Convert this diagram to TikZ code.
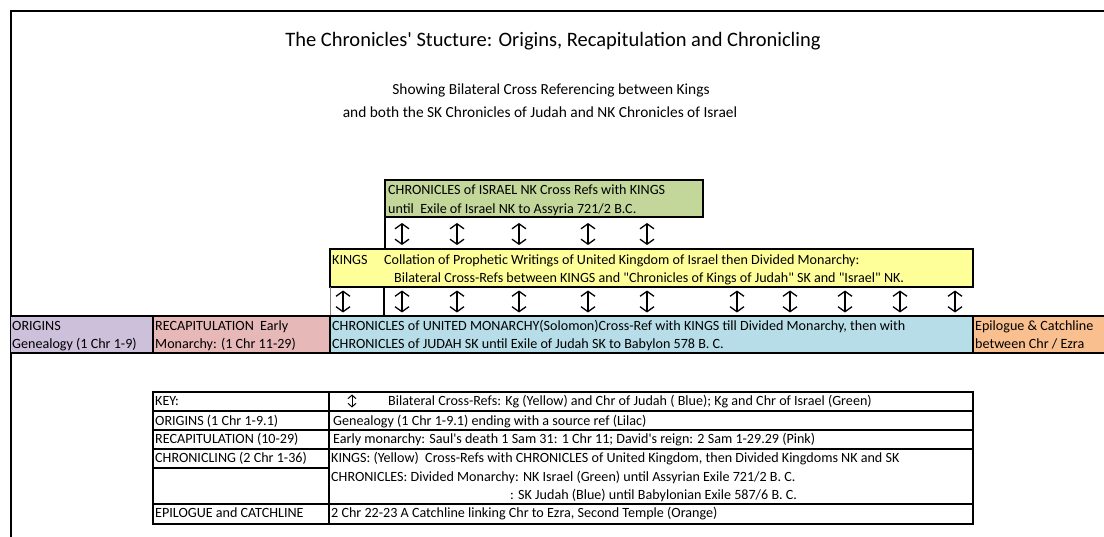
\documentclass[tikz,border=0pt]{standalone}
\usepackage{fontspec}
\setmainfont{Carlito}
\usetikzlibrary{arrows.meta}
\definecolor{lilacc}{HTML}{CCC0DA}
\definecolor{pinkc}{HTML}{E6B8B7}
\definecolor{bluec}{HTML}{B7DEE8}
\definecolor{orangec}{HTML}{FABF8F}
\definecolor{yellowc}{HTML}{FFFF99}
\definecolor{greenc}{HTML}{C4D79B}
\newcommand{\sq}{\textquotesingle}
\newcommand{\dq}{\textquotedbl}
\tikzset{
  frame/.style={line width=2pt},
  boxline/.style={line width=2pt},
  txt/.style={anchor=base west, inner sep=0pt, font=\fontsize{14.1}{17}\selectfont},
  titletxt/.style={anchor=base, inner sep=0pt, font=\fontsize{20.5}{24}\selectfont},
  subtxt/.style={anchor=base, inner sep=0pt, font=\fontsize{15.4}{18}\selectfont},
  updown/.pic={\draw[line width=1.3pt, {Straight Barb[length=5pt,width=14pt]}-{Straight Barb[length=5pt,width=14pt]}] (0,-11) -- (0,11);},
  smallupdown/.pic={\draw[line width=1pt, {Straight Barb[length=3.5pt,width=8pt]}-{Straight Barb[length=3.5pt,width=8pt]}] (0,-6.5) -- (0,6.5);}
}
\begin{document}
\begin{tikzpicture}[x=1pt,y=-1pt]
\useasboundingbox (0,0) rectangle (1104,537);
% frame
\draw[frame] (11,537) -- (11,11) -- (1104,11);
% titles
\node[titletxt] (title) at (553,47) {The Chronicles\sq{} Stucture: Origins, Recapitulation and Chronicling};
\node[subtxt] (sub1) at (551,95) {Showing Bilateral Cross Referencing between Kings};
\node[subtxt] (sub2) at (540,118) {and both the SK Chronicles of Judah and NK Chronicles of Israel};
% green box
\filldraw[boxline, fill=greenc] (385,180) rectangle (703,217);
\node[txt] (g1) at (388,195) {CHRONICLES of ISRAEL NK Cross Refs with KINGS};
\node[txt] (g2) at (388,214) {until\ \ Exile of Israel NK to Assyria 721/2 B.C.};
\draw[boxline] (385,217) -- (385,249);
\foreach \x in {402,457,519,588,647} \pic at (\x,234) {updown};
% yellow box
\filldraw[boxline, fill=yellowc] (330,249) rectangle (973,287);
\node[txt] (k0) at (332,265) {KINGS};
\node[txt] (k1) at (384,265) {Collation of Prophetic Writings of United Kingdom of Israel then Divided Monarchy:};
\node[txt] (k2) at (394,283) {Bilateral Cross-Refs between KINGS and \dq{}Chronicles of Kings of Judah\dq{} SK and \dq{}Israel\dq{} NK.};
\draw[gray, line width=1pt] (330,287) -- (330,316);
\draw[boxline] (384,287) -- (384,316);
\foreach \x in {343,402,457,519,588,647,737,790,845,900,955} \pic at (\x,301.5) {updown};
% main row
\fill[lilacc] (11,316) rectangle (153,353);
\fill[pinkc] (153,316) rectangle (330,353);
\fill[bluec] (330,316) rectangle (973,353);
\fill[orangec] (973,316) rectangle (1104,353);
\draw[boxline] (11,316) -- (1104,316);
\draw[boxline] (11,353) -- (1104,353);
\draw[boxline] (153,316) -- (153,353);
\draw[boxline] (330,316) -- (330,353);
\draw[boxline] (973,316) -- (973,353);
\node[txt] (o1) at (12,331) {ORIGINS};
\node[txt] (o2) at (12,349) {Genealogy (1 Chr 1-9)};
\node[txt] (r1) at (155,331) {RECAPITULATION\ \ Early};
\node[txt] (r2) at (155,349) {Monarchy: (1 Chr 11-29)};
\node[txt] (c1) at (332,331) {CHRONICLES of UNITED MONARCHY(Solomon)Cross-Ref with KINGS till Divided Monarchy, then with};
\node[txt] (c2) at (332,349) {CHRONICLES of JUDAH SK until Exile of Judah SK to Babylon 578 B. C.};
\node[txt] (e1) at (975,331) {Epilogue \& Catchline};
\node[txt] (e2) at (975,349) {between Chr / Ezra};
% key table
\draw[boxline] (153,392) rectangle (973,524);
\draw[boxline] (153,411) -- (973,411);
\draw[boxline] (153,430) -- (973,430);
\draw[boxline] (153,449) -- (973,449);
\draw[boxline] (153,468) -- (329,468);
\draw[boxline] (153,504) -- (973,504);
\draw[boxline] (329,392) -- (329,524);
\node[txt] (kk1) at (155,406) {KEY:};
\pic at (352,401) {smallupdown};
\node[txt] (kv1) at (388,406) {Bilateral Cross-Refs: Kg (Yellow) and Chr of Judah ( Blue); Kg and Chr of Israel (Green)};
\node[txt] (kk2) at (155,425) {ORIGINS (1 Chr 1-9.1)};
\node[txt] (kv2) at (333,425) {Genealogy (1 Chr 1-9.1) ending with a source ref (Lilac)};
\node[txt] (kk3) at (155,443) {RECAPITULATION (10-29)};
\node[txt] (kv3) at (333,443) {Early monarchy: Saul\sq{}s death 1 Sam 31: 1 Chr 11; David\sq{}s reign: 2 Sam 1-29.29 (Pink)};
\node[txt] (kk4) at (155,462) {CHRONICLING (2 Chr 1-36)};
\node[txt] (kv4) at (331,462) {KINGS: (Yellow)\ \ Cross-Refs with CHRONICLES of United Kingdom, then Divided Kingdoms NK and SK};
\node[txt] (kv5) at (331,481) {CHRONICLES: Divided Monarchy: NK Israel (Green) until Assyrian Exile 721/2 B. C.};
\node[txt] (kv6) at (510,499) {: SK Judah (Blue) until Babylonian Exile 587/6 B. C.};
\node[txt] (kk7) at (155,517) {EPILOGUE and CATCHLINE};
\node[txt] (kv7) at (331,517) {2 Chr 22-23 A Catchline linking Chr to Ezra, Second Temple (Orange)};
\end{tikzpicture}
\end{document}
